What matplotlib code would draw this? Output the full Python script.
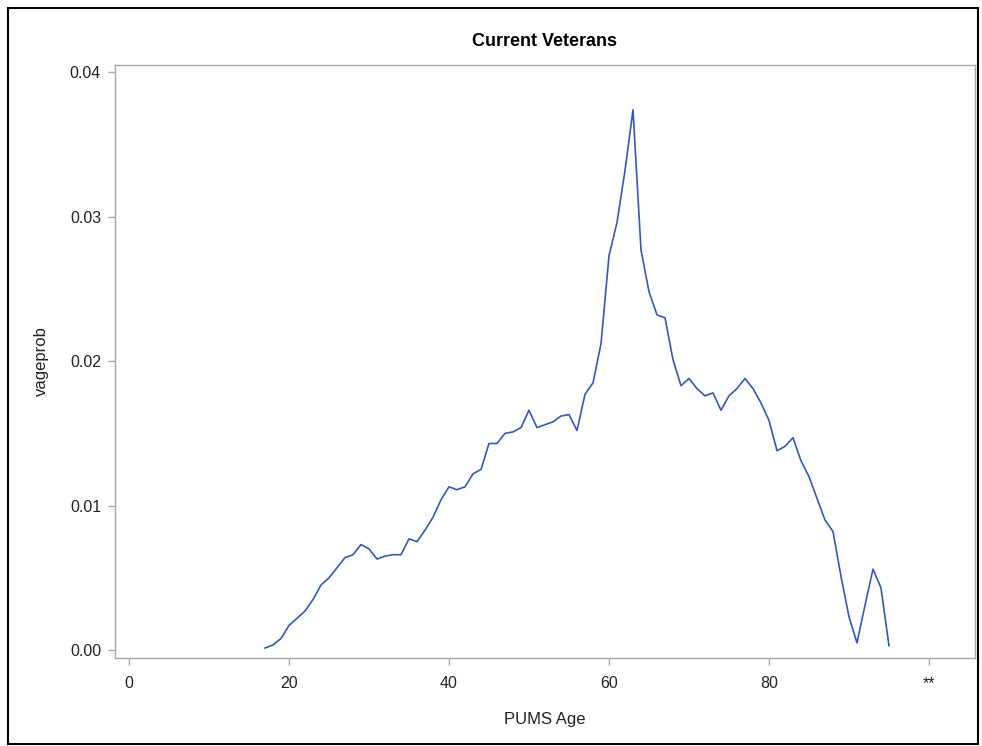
import matplotlib
matplotlib.use("Agg")
import matplotlib.pyplot as plt
from matplotlib.patches import Rectangle

plt.rcParams['font.family'] = ['Liberation Sans', 'DejaVu Sans']

ages = list(range(17, 96))
vageprob = [
    0.00014, 0.00035, 0.0008, 0.0017, 0.0022, 0.0027, 0.0035, 0.0045, 0.0050, 0.0057,
    0.0064, 0.0066, 0.0073, 0.0070, 0.0063, 0.0065, 0.0066, 0.0066, 0.0077, 0.0075,
    0.0083, 0.0092, 0.0104, 0.0113, 0.0111, 0.0113, 0.0122, 0.0125, 0.0143, 0.0143,
    0.0150, 0.0151, 0.0154, 0.0166, 0.0154, 0.0156, 0.0158, 0.0162, 0.0163, 0.0152,
    0.0177, 0.0185, 0.0212, 0.0273, 0.0296, 0.0332, 0.0374, 0.0277, 0.0248, 0.0232,
    0.0230, 0.0201, 0.0183, 0.0188, 0.0181, 0.0176, 0.0178, 0.0166, 0.0176, 0.0181,
    0.0188, 0.0181, 0.0171, 0.0159, 0.0138, 0.0141, 0.0147, 0.0131, 0.0120, 0.0105,
    0.0090, 0.0082, 0.0051, 0.0023, 0.0005, 0.0031, 0.0056, 0.0043, 0.0003,
]
xtick_pos = [0, 20, 40, 60, 80, 100]
xtick_labels = ["0", "20", "40", "60", "80", "**"]
ytick_pos = [0.00, 0.01, 0.02, 0.03, 0.04]
ytick_labels = ["0.00", "0.01", "0.02", "0.03", "0.04"]

W, H = 982, 746
fig = plt.figure(figsize=(W / 100, H / 100), dpi=100)
ax = fig.add_axes([115 / W, 1 - 658 / H, (975 - 115) / W, (658 - 65) / H])

ax.plot(ages, vageprob, color='#3158c4', linewidth=1.2)
ax.set_xlim(-1.75, 105.75)
ax.set_ylim(-0.00055, 0.0405)
ax.set_xticks(xtick_pos)
ax.set_xticklabels(xtick_labels)
ax.set_yticks(ytick_pos)
ax.set_yticklabels(ytick_labels)

gray = '#a8a8a8'
for s in ax.spines.values():
    s.set_color(gray)
    s.set_linewidth(1.0)
ax.tick_params(axis='both', direction='out', length=5, width=1.0, color=gray,
               labelsize=11.5, labelcolor='#222222', pad=5)
ax.tick_params(axis='x', pad=8)

ax.set_xlabel('PUMS Age', fontsize=12, color='#222222', labelpad=15)
ax.set_ylabel('vageprob', fontsize=12, color='#222222', labelpad=15)
fig.text(0.5 * (115 + 975) / W, 1 - 41 / H, 'Current Veterans', ha='center', va='center',
         fontsize=13, fontweight='bold', color='black')

fig.patches.append(Rectangle((8 / W, 1 - 744 / H), (978 - 8) / W, (744 - 8) / H,
                             transform=fig.transFigure, fill=False,
                             edgecolor='black', linewidth=1.5))

fig.savefig('out.png', dpi=100)
